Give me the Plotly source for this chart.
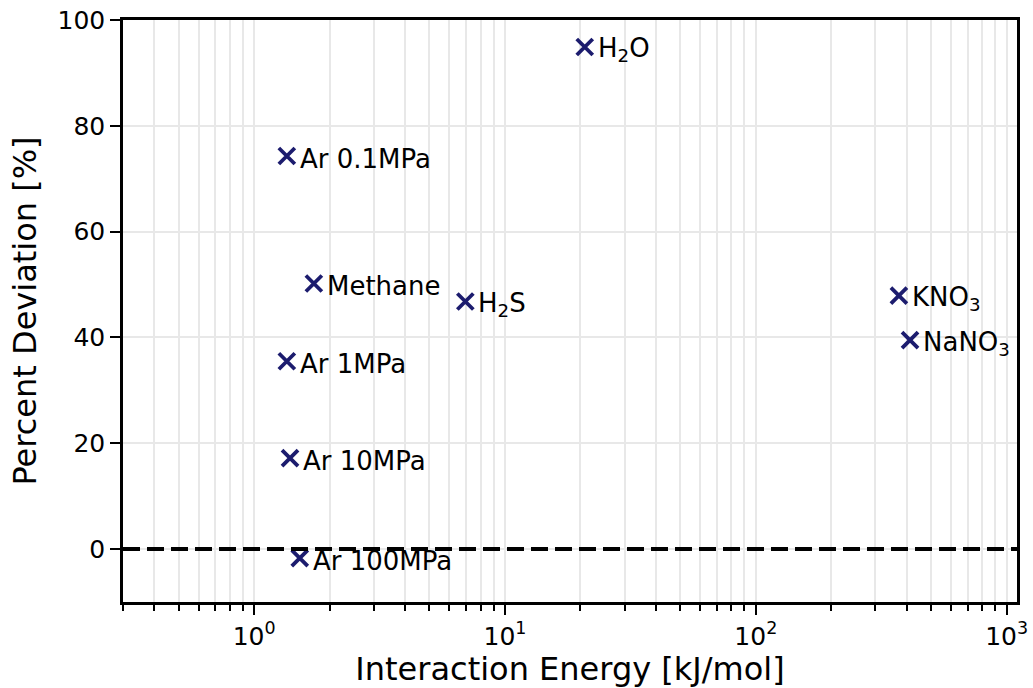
import numpy as np
import plotly.graph_objects as go

# Interaction energy vs. percent deviation for each system
labels = ["H<sub>2</sub>O", "Ar 0.1MPa", "Methane", "H<sub>2</sub>S", "KNO<sub>3</sub>",
          "NaNO<sub>3</sub>", "Ar 1MPa", "Ar 10MPa", "Ar 100MPa"]
energy = [20.8, 1.35, 1.73, 6.95, 372, 412, 1.35, 1.39, 1.52]
deviation = [94.9, 74.3, 50.2, 46.8, 47.9, 39.5, 35.5, 17.2, -1.7]

x_major = [1, 10, 100, 1000]
x_major_text = ["10<sup>0</sup>", "10<sup>1</sup>", "10<sup>2</sup>", "10<sup>3</sup>"]
x_minor = [m * 10.0 ** e for e in range(-1, 4) for m in range(2, 10)]
y_ticks = [0, 20, 40, 60, 80, 100]

FONT = "DejaVu Sans"
MARK = "#1c1c6e"
GRID = "#e8e8e8"

fig = go.Figure()

# zero-deviation reference line
fig.add_hline(y=0, line=dict(color="black", width=4, dash="17px,7px"), layer="above")

fig.add_trace(go.Scatter(
    x=energy, y=deviation, mode="markers",
    marker=dict(symbol="x-thin", size=16, color=MARK, line=dict(color=MARK, width=3.8)),
    cliponaxis=False, showlegend=False,
))

# point labels, placed just right of each marker
for xv, yv, lab in zip(energy, deviation, labels):
    fig.add_annotation(
        x=np.log10(xv), y=yv, text=lab, showarrow=False,
        xanchor="left", yanchor="middle", xshift=11, yshift=-3,
        font=dict(family=FONT, size=26, color="black"),
    )

fig.update_xaxes(
    type="log", range=[np.log10(0.3), np.log10(1100)], automargin=False,
    tickmode="array", tickvals=x_major, ticktext=x_major_text,
    ticks="outside", ticklen=10, tickwidth=2, tickcolor="black",
    showgrid=True, gridcolor=GRID, gridwidth=1.5,
    minor=dict(tickmode="array", tickvals=x_minor, ticks="outside", ticklen=6,
               tickwidth=1.5, tickcolor="black", showgrid=True, gridcolor=GRID, gridwidth=1.5),
    showline=True, linecolor="black", linewidth=2.5, mirror=True,
    zeroline=False,
    tickfont=dict(family=FONT, size=25, color="black"),
    title=dict(text="Interaction Energy [kJ/mol]", font=dict(family=FONT, size=32, color="black"),
               standoff=16),
)
fig.update_yaxes(
    range=[-10, 100], automargin=False, tickmode="array", tickvals=y_ticks,
    ticks="outside", ticklen=10, tickwidth=2, tickcolor="black",
    showgrid=True, gridcolor=GRID, gridwidth=1.5,
    showline=True, linecolor="black", linewidth=2.5, mirror=True,
    zeroline=False,
    tickfont=dict(family=FONT, size=25, color="black"),
    title=dict(text="Percent Deviation [%]", font=dict(family=FONT, size=32, color="black"),
               standoff=12),
)

fig.update_layout(
    width=1033, height=688,
    margin=dict(l=123, r=16, t=20, b=86),
    paper_bgcolor="white", plot_bgcolor="white",
    font=dict(family=FONT),
)

fig.write_html("out.html")
